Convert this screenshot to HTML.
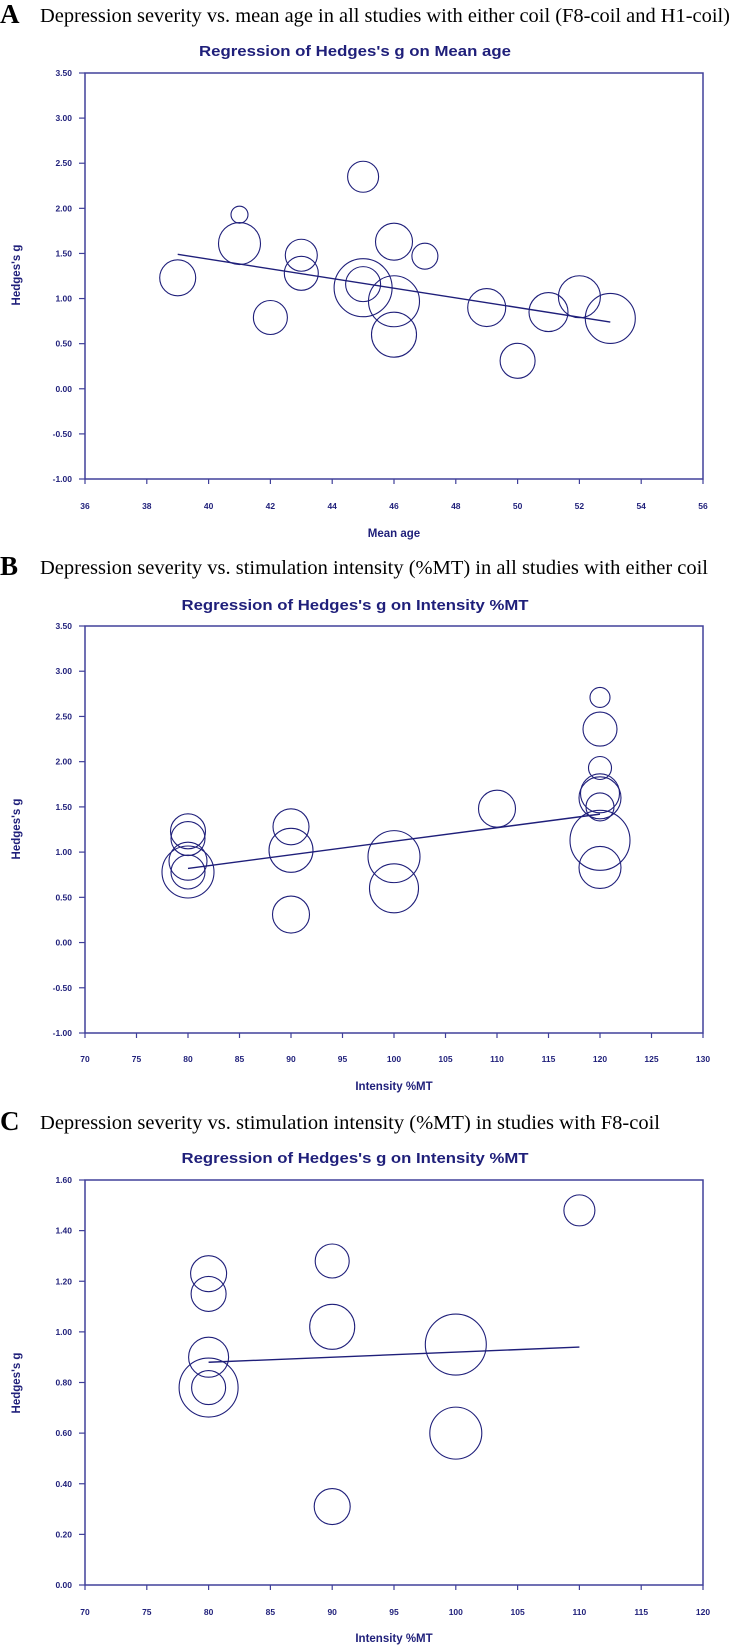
<!DOCTYPE html>
<html><head><meta charset="utf-8"><style>
html,body{margin:0;padding:0;background:#fff;}
svg{display:block;}
</style></head><body>
<svg id="fig" width="732" height="1647" viewBox="0 0 732 1647" xmlns="http://www.w3.org/2000/svg">
<g>
<text x="0" y="23" font-family="Liberation Serif, serif" font-size="27" font-weight="bold" fill="#000">A</text>
<text x="40" y="22" font-family="Liberation Serif, serif" font-size="20" fill="#000" textLength="690" lengthAdjust="spacingAndGlyphs">Depression severity vs. mean age in all studies with either coil (F8-coil and H1-coil)</text>
</g>
<g>
<text x="0" y="575" font-family="Liberation Serif, serif" font-size="27" font-weight="bold" fill="#000">B</text>
<text x="40" y="574" font-family="Liberation Serif, serif" font-size="20" fill="#000" textLength="668" lengthAdjust="spacingAndGlyphs">Depression severity vs. stimulation intensity (%MT) in all studies with either coil</text>
</g>
<g>
<text x="0" y="1130" font-family="Liberation Serif, serif" font-size="27" font-weight="bold" fill="#000">C</text>
<text x="40" y="1129" font-family="Liberation Serif, serif" font-size="20" fill="#000" textLength="620" lengthAdjust="spacingAndGlyphs">Depression severity vs. stimulation intensity (%MT) in studies with F8-coil</text>
</g>
</svg>
<script>
// Panel A data
const aX = [39,41,41,42,43,43,45,45,45,46,46,46,47,49,50,51,52,53];
const aY = [1.23,1.93,1.61,0.79,1.48,1.28,2.35,1.12,1.16,1.63,0.97,0.60,1.47,0.90,0.31,0.85,1.02,0.78];
const aW = [18,8.5,21,17,16,17,15.5,29,17.5,18.5,25.5,22.5,13,19,17.5,19.5,21,25];
const aXTicks = [36,38,40,42,44,46,48,50,52,54,56];
const aYTicks = [3.5,3.0,2.5,2.0,1.5,1.0,0.5,0.0,-0.5,-1.0];
const aLineX = [39,53];
const aLineY = [1.49,0.74];
// Panel B data
const bX = [80,80,80,80,80,90,90,90,100,100,110,120,120,120,120,120,120,120,120];
const bY = [1.23,1.15,0.90,0.78,0.78,1.28,1.02,0.31,0.95,0.60,1.48,2.71,2.36,1.93,1.65,1.60,1.50,1.13,0.83];
const bW = [17.5,17,19,26,17,18,22,18.5,26,24.5,18.5,10,17,11.5,19.5,21,14,30,21];
const bXTicks = [70,75,80,85,90,95,100,105,110,115,120,125,130];
const bYTicks = [3.5,3.0,2.5,2.0,1.5,1.0,0.5,0.0,-0.5,-1.0];
const bLineX = [80,120];
const bLineY = [0.82,1.42];
// Panel C data
const cX = [80,80,80,80,80,90,90,90,100,100,110];
const cY = [1.23,1.15,0.90,0.78,0.78,1.28,1.02,0.31,0.95,0.60,1.48];
const cW = [18,17.5,20,29.5,17,17,22.5,18,30.5,26,15.5];
const cXTicks = [70,75,80,85,90,95,100,105,110,115,120];
const cYTicks = [1.6,1.4,1.2,1.0,0.8,0.6,0.4,0.2,0.0];
const cLineX = [80,110];
const cLineY = [0.88,0.94];

const NS = 'http://www.w3.org/2000/svg';
const svg = document.getElementById('fig');
const NAVY = '#1f1f7a', AXIS = '#40409a';
function mk(tag, attrs, parent){
  const e = document.createElementNS(NS, tag);
  for (const k in attrs) e.setAttribute(k, attrs[k]);
  parent.appendChild(e);
  return e;
}
function panel(p){
  const g = mk('g', {}, svg);
  
  
  const L=85, R=703, T=p.top, B=p.bottom;
  const sx = v => L + (v - p.xmin)/(p.xmax - p.xmin)*(R-L);
  const sy = v => B - (v - p.ymin)/(p.ymax - p.ymin)*(B-T);
  const title = mk('text', {x:355, y:p.titleY, 'text-anchor':'middle', 'font-family':'Liberation Sans, sans-serif', 'font-size':15, 'font-weight':'bold', fill:NAVY, textLength:p.titleLen, lengthAdjust:'spacingAndGlyphs'}, g);
  title.textContent = p.title;
  
  
  const frame = mk('rect', {x:L, y:T, width:R-L, height:B-T, fill:'none', stroke:AXIS, 'stroke-width':1.5}, g);
  
  
  p.yTicks.forEach(v => {
    const y = sy(v);
    mk('line', {x1:79, x2:L, y1:y, y2:y, stroke:AXIS, 'stroke-width':1.2}, g);
    const t = mk('text', {x:72, y:y+3, 'text-anchor':'end', 'font-family':'Liberation Sans, sans-serif', 'font-size':8.5, 'font-weight':'bold', fill:NAVY}, g);
    t.textContent = v.toFixed(2);
    
    
  });
  p.xTicks.forEach(v => {
    const x = sx(v);
    mk('line', {x1:x, x2:x, y1:B, y2:B+5, stroke:AXIS, 'stroke-width':1.2}, g);
    const t = mk('text', {x:x, y:p.xTickY, 'text-anchor':'middle', 'font-family':'Liberation Sans, sans-serif', 'font-size':8.5, 'font-weight':'bold', fill:NAVY}, g);
    t.textContent = String(v);
    
    
  });
  const xl = mk('text', {x:394, y:p.xLabelY, 'text-anchor':'middle', 'font-family':'Liberation Sans, sans-serif', 'font-size':11.5, 'font-weight':'bold', fill:NAVY}, g);
  xl.textContent = p.xLabel;
  
  
  const yc = p.yLabelY;
  const yl = mk('text', {x:20, y:yc, 'text-anchor':'middle', transform:'rotate(-90 20 '+yc+')', 'font-family':'Liberation Sans, sans-serif', 'font-size':11.5, 'font-weight':'bold', fill:NAVY}, g);
  yl.textContent = "Hedges's g";
  
  
  p.xs.forEach((v,i) => {
    const c = mk('circle', {cx:sx(v), cy:sy(p.ys[i]), r:p.ws[i], fill:'none', stroke:NAVY, 'stroke-width':1.1}, g);
    
    
  });
  const ln = mk('line', {x1:sx(p.lx[0]), y1:sy(p.ly[0]), x2:sx(p.lx[1]), y2:sy(p.ly[1]), stroke:NAVY, 'stroke-width':1.4}, g);
  
  
}
panel({name:'panel-a-chart', title:"Regression of Hedges's g on Mean age", titleY:56, titleLen:312, top:73, bottom:479,
  xmin:36, xmax:56, ymin:-1, ymax:3.5, xTicks:aXTicks, yTicks:aYTicks, xTickY:509, xLabel:'Mean age', xLabelY:537, yLabelY:275,
  xs:aX, ys:aY, ws:aW, lx:aLineX, ly:aLineY});
panel({name:'panel-b-chart', title:"Regression of Hedges's g on Intensity %MT", titleY:610, titleLen:347, top:626, bottom:1033,
  xmin:70, xmax:130, ymin:-1, ymax:3.5, xTicks:bXTicks, yTicks:bYTicks, xTickY:1062, xLabel:'Intensity %MT', xLabelY:1090, yLabelY:829,
  xs:bX, ys:bY, ws:bW, lx:bLineX, ly:bLineY});
panel({name:'panel-c-chart', title:"Regression of Hedges's g on Intensity %MT", titleY:1163, titleLen:347, top:1180, bottom:1585,
  xmin:70, xmax:120, ymin:0, ymax:1.6, xTicks:cXTicks, yTicks:cYTicks, xTickY:1615, xLabel:'Intensity %MT', xLabelY:1642, yLabelY:1383,
  xs:cX, ys:cY, ws:cW, lx:cLineX, ly:cLineY});
</script>
</body></html>
